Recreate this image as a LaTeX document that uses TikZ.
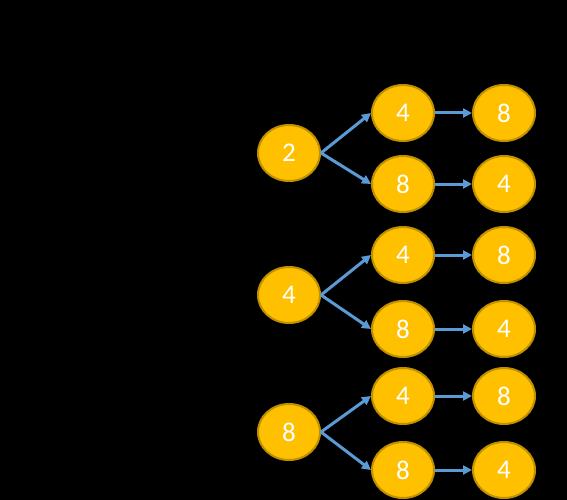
\documentclass[tikz,border=0pt]{standalone}
\usepackage{fontspec}
\setmainfont{Carlito}
\usetikzlibrary{arrows.meta,shapes.geometric}
\definecolor{nodefill}{HTML}{FFC000}
\definecolor{nodeline}{HTML}{BF9000}
\definecolor{arrowblue}{HTML}{5B9BD5}
\begin{document}
\begin{tikzpicture}[x=1pt,y=-1pt,
  num/.style={ellipse,draw=nodeline,fill=nodefill,line width=2pt,minimum width=62pt,minimum height=56pt,inner sep=0pt,text=white,font=\fontsize{27}{27}\selectfont},
  link/.style={draw=arrowblue,line width=3pt,-{Triangle[length=9pt,width=9pt]}}]
\fill[black] (0,0) rectangle (567,500);
\useasboundingbox (0,0) rectangle (567,500);
% group 1
\node[num] (r1) at (289,153) {2};
\node[num] (a1) at (403,113) {4};
\node[num] (b1) at (403,184) {8};
\node[num] (c1) at (504,113) {8};
\node[num] (d1) at (504,184) {4};
% group 2
\node[num] (r2) at (289,295) {4};
\node[num] (a2) at (403,255) {4};
\node[num] (b2) at (403,329) {8};
\node[num] (c2) at (504,255) {8};
\node[num] (d2) at (504,329) {4};
% group 3
\node[num] (r3) at (289,432) {8};
\node[num] (a3) at (403,396) {4};
\node[num] (b3) at (403,470) {8};
\node[num] (c3) at (504,396) {8};
\node[num] (d3) at (504,470) {4};
\foreach \i in {1,2,3}{
  \draw[link] (r\i.east) -- (a\i.west);
  \draw[link] (r\i.east) -- (b\i.west);
  \draw[link] (a\i.east) -- (c\i.west);
  \draw[link] (b\i.east) -- (d\i.west);
}
\end{tikzpicture}
\end{document}
